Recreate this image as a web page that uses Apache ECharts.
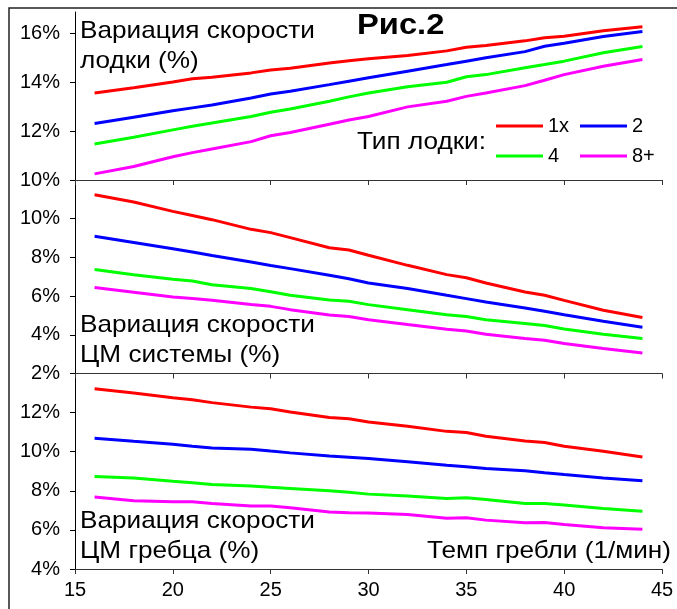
<!DOCTYPE html>
<html>
<head>
<meta charset="utf-8">
<script src="https://cdn.jsdelivr.net/npm/echarts@6/dist/echarts.min.js"></script>
<style>
  html, body { margin: 0; padding: 0; background: #fff; }
  #chart { width: 677px; height: 609px; }
</style>
</head>
<body>
<div id="chart"></div>
<script>
// stroke rate (1/min)
var rates = [16, 18, 20, 21, 22, 24, 25, 26, 28, 29, 30, 32, 34, 35, 36, 38, 39, 40, 42, 44]
var boatTypes = ['1x', '2', '4', '8+']
var boatColors = ['#ff0000', '#0000ff', '#00ff00', '#ff00ff']

// boat speed variation (%)
var boat1x = [13.56, 13.77, 14.01, 14.14, 14.2, 14.38, 14.5, 14.57, 14.78, 14.88, 14.96, 15.09, 15.28, 15.43, 15.5, 15.69, 15.82, 15.88, 16.1, 16.27]
var boat2 = [12.31, 12.57, 12.83, 12.95, 13.07, 13.35, 13.52, 13.63, 13.9, 14.04, 14.18, 14.45, 14.72, 14.86, 15.0, 15.25, 15.47, 15.59, 15.87, 16.07]
var boat4 = [11.47, 11.75, 12.05, 12.2, 12.33, 12.6, 12.77, 12.9, 13.22, 13.4, 13.56, 13.81, 14.0, 14.22, 14.31, 14.59, 14.72, 14.86, 15.2, 15.46]
var boat8 = [10.25, 10.55, 10.95, 11.12, 11.27, 11.57, 11.81, 11.94, 12.28, 12.45, 12.6, 12.99, 13.22, 13.42, 13.56, 13.86, 14.08, 14.31, 14.65, 14.93]

// system CM speed variation (%)
var system1x = [11.24, 10.86, 10.38, 10.17, 9.95, 9.45, 9.28, 9.02, 8.5, 8.38, 8.11, 7.59, 7.11, 6.95, 6.68, 6.21, 6.04, 5.78, 5.27, 4.89]
var system2 = [9.09, 8.77, 8.45, 8.28, 8.1, 7.76, 7.58, 7.42, 7.08, 6.9, 6.68, 6.39, 6.04, 5.87, 5.7, 5.39, 5.22, 5.04, 4.7, 4.39]
var system4 = [7.37, 7.1, 6.87, 6.78, 6.59, 6.39, 6.22, 6.04, 5.8, 5.73, 5.56, 5.3, 5.04, 4.95, 4.78, 4.58, 4.48, 4.3, 4.03, 3.81]
var system8 = [6.45, 6.2, 5.95, 5.88, 5.78, 5.56, 5.47, 5.3, 5.02, 4.95, 4.78, 4.53, 4.29, 4.2, 4.03, 3.81, 3.72, 3.55, 3.29, 3.06]

// rower CM speed variation (%)
var rower1x = [13.22, 13.0, 12.76, 12.66, 12.51, 12.28, 12.2, 12.03, 11.75, 11.69, 11.52, 11.3, 11.04, 10.98, 10.79, 10.55, 10.47, 10.28, 10.02, 9.73]
var rower2 = [10.69, 10.53, 10.38, 10.28, 10.19, 10.13, 10.03, 9.94, 9.78, 9.72, 9.65, 9.48, 9.31, 9.23, 9.14, 9.02, 8.92, 8.83, 8.66, 8.51]
var rower4 = [8.73, 8.66, 8.49, 8.41, 8.32, 8.25, 8.18, 8.12, 8.0, 7.92, 7.83, 7.74, 7.61, 7.64, 7.56, 7.35, 7.35, 7.27, 7.1, 6.95]
var rower8 = [7.68, 7.49, 7.44, 7.44, 7.35, 7.22, 7.22, 7.13, 6.92, 6.88, 6.87, 6.79, 6.59, 6.62, 6.5, 6.36, 6.38, 6.28, 6.11, 6.03]

// tick labels
var boatTicks = [10, 12, 14, 16]
var systemTicks = [2, 4, 6, 8, 10]
var systemTickMarks = [2, 4, 6, 8, 10, 12]
var rowerTicks = [4, 6, 8, 10, 12]
var rowerTickMarks = [4, 6, 8, 10, 12, 14]

var font = 'Arial, "Liberation Sans", sans-serif'

function pairs(values) {
  return rates.map(function(r, i) { return [r, values[i]] })
}

function yAxis(gridIndex, min, max, labels, ticks) {
  return {
    type: 'value',
    gridIndex: gridIndex,
    min: min,
    max: max,
    axisLine: { show: true, lineStyle: { color: '#000', width: 1 } },
    axisTick: { show: true, length: 5, customValues: ticks, lineStyle: { color: '#000' } },
    axisLabel: {
      customValues: labels,
      formatter: '{value}%',
      color: '#000',
      fontFamily: font,
      fontSize: 20,
      margin: 15
    },
    splitLine: { show: false }
  }
}

function xAxis(gridIndex, showLabel) {
  return {
    type: 'value',
    gridIndex: gridIndex,
    min: 15,
    max: 45,
    interval: 5,
    axisLine: { show: true, onZero: false, lineStyle: { color: '#333', width: 1 } },
    axisTick: { show: true, length: 5, lineStyle: { color: '#333' } },
    axisLabel: {
      show: showLabel,
      color: '#000',
      fontFamily: font,
      fontSize: 20,
      margin: 11
    },
    splitLine: { show: false }
  }
}

var panels = [
  [boat1x, boat2, boat4, boat8],
  [system1x, system2, system4, system8],
  [rower1x, rower2, rower4, rower8]
]

var series = []
panels.forEach(function(panel, p) {
  panel.forEach(function(values, i) {
    series.push({
      name: boatTypes[i],
      type: 'line',
      xAxisIndex: p,
      yAxisIndex: p,
      showSymbol: false,
      symbol: 'none',
      color: boatColors[i],
      lineStyle: { width: 3, color: boatColors[i] },
      animation: false,
      data: pairs(values)
    })
  })
})

// text is a bit wider in the original, so stretch it horizontally
function textEl(text, x, y, size, opts) {
  var style = {
    text: text,
    x: 0,
    y: 0,
    fill: '#000',
    fontFamily: font,
    fontSize: size,
    lineHeight: 30
  }
  for (var k in opts) style[k] = opts[k]
  return { type: 'text', x: x, y: y, scaleX: 1.09, style: style, z: 100 }
}

var legendBase = {
  orient: 'vertical',
  icon: 'rect',
  itemWidth: 47,
  itemHeight: 3,
  itemGap: 10,
  padding: 0,
  selectedMode: false,
  textStyle: { color: '#000', fontFamily: font, fontSize: 20, lineHeight: 19 }
}

var chart = echarts.init(document.getElementById('chart'))
chart.setOption({
  backgroundColor: '#fff',
  animation: false,
  grid: [
    { left: 75, right: 15, top: 12, height: 168 },
    { left: 75, right: 15, top: 180, height: 193.5 },
    { left: 75, right: 15, top: 373.5, height: 195.5 }
  ],
  xAxis: [xAxis(0, false), xAxis(1, false), xAxis(2, true)],
  yAxis: [
    yAxis(0, 10, 16.87, boatTicks, boatTicks),
    yAxis(1, 2, 12, systemTicks, systemTickMarks),
    yAxis(2, 4, 14, rowerTicks, rowerTickMarks)
  ],
  legend: [
    Object.assign({}, legendBase, { left: 496, top: 116, data: ['1x', '4'] }),
    Object.assign({}, legendBase, { left: 580, top: 116, data: ['2', '8+'] })
  ],
  graphic: [
    {
      type: 'rect',
      shape: { x: 9, y: 8, width: 700, height: 700 },
      style: { fill: 'none', stroke: '#222', lineWidth: 1.5 },
      z: 100
    },
    textEl('Вариация скорости\nлодки (%)', 80, 16, 24),
    textEl('Рис.2', 357, 11, 30, { fontWeight: 'bold', lineHeight: 30 }),
    textEl('Тип лодки:', 357, 127, 24),
    textEl('Вариация скорости\nЦМ системы (%)', 80, 310, 24),
    textEl('Вариация скорости\nЦМ гребца (%)', 80, 506, 24),
    textEl('Темп гребли (1/мин)', 671, 536, 24, { align: 'right' })
  ],
  series: series
})
</script>
</body>
</html>
